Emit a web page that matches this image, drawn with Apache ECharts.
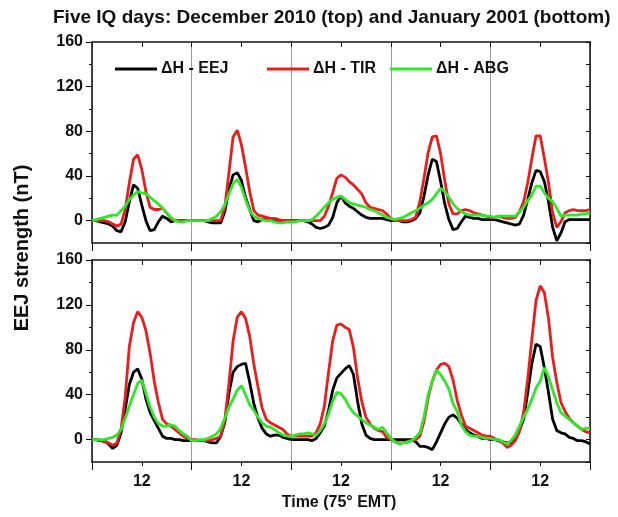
<!DOCTYPE html>
<html>
<head>
<meta charset="utf-8">
<script src="https://cdn.jsdelivr.net/npm/echarts@6/dist/echarts.min.js"></script>
<style>
  html, body { margin: 0; padding: 0; background: #fff; }
  #chart { width: 618px; height: 517px; }
</style>
</head>
<body>
<div id="chart"></div>
<script>
// hours of the five quiet days (75° EMT), one value per hour
const hours = Array.from({ length: 121 }, (_, i) => i)
const dayTicks = [12, 36, 60, 84, 108]

const seriesNames = ['ΔH - EEJ', 'ΔH - TIR', 'ΔH - ABG']
const seriesColors = ['#000000', '#ec1c1c', '#2ee62a']

// December 2010 (top panel), nT
const decEej = [
  0, 0, -1, -2, -3, -5, -9, -10, -1, 17, 32, 29, 14, 0, -9, -8, -1, 4, 2, -1, 0, 0, 0, 0,
  0, 0, 0, 0, -1, -2, -2, -2, 8, 28, 41, 43, 36, 21, 10, 0, -1, 1, 1, 1, 0, 0, 0, 0,
  0, 0, 0, 0, -1, -3, -6, -7, -6, -4, 3, 16, 22, 16, 13, 11, 8, 5, 3, 2, 2, 2, 2, 1,
  0, 0, 0, -1, -1, 0, 2, 7, 22, 41, 55, 53, 35, 15, 1, -8, -7, -1, 4, 3, 2, 2, 1, 1,
  1, 1, 0, -1, -2, -3, -4, -3, 5, 19, 34, 45, 44, 35, 17, -6, -18, -11, -1, 1, 1, 1, 1, 1, 1
]
const decTir = [
  0, 0, 0, 0, -1, -3, -5, -3, 10, 34, 55, 59, 46, 26, 12, 10, 10, 11, 7, 2, 0, 0, 0, 0,
  0, 0, 0, 0, 0, 0, 0, 0, 12, 43, 75, 81, 68, 48, 26, 9, 5, 4, 3, 2, 2, 1, 0, 0,
  0, 0, 0, 0, 0, 0, 0, 0, 4, 13, 25, 38, 41, 39, 35, 32, 28, 24, 16, 12, 11, 10, 9, 6,
  2, 0, 0, 0, 0, 1, 3, 17, 38, 61, 75, 76, 60, 36, 15, 6, 6, 9, 10, 9, 7, 6, 5, 4,
  3, 3, 4, 3, 2, 2, 3, 8, 17, 34, 56, 76, 76, 56, 34, 7, -6, -1, 7, 9, 10, 9, 9, 9, 10
]
const decAbg = [
  0, 1, 2, 3, 4, 5, 5, 9, 13, 19, 23, 26, 25, 24, 21, 18, 15, 11, 7, 3, 0, -1, -1, 0,
  0, 0, 0, 0, 0, 2, 4, 8, 14, 24, 33, 37, 30, 19, 9, 4, 2, 1, 0, 0, -1, -2, -2, -1,
  -1, -1, 0, 0, 0, 1, 4, 8, 12, 16, 19, 21, 22, 19, 16, 15, 14, 13, 12, 10, 9, 7, 5, 3,
  2, 1, 2, 3, 5, 7, 9, 11, 14, 16, 19, 24, 29, 26, 21, 15, 11, 8, 6, 5, 5, 5, 5, 4,
  4, 3, 4, 4, 4, 4, 4, 8, 12, 18, 23, 31, 31, 25, 20, 17, 11, 4, 5, 5, 5, 5, 6, 6, 7
]

// January 2001 (bottom panel), nT
const janEej = [
  0, 0, -1, -1, -4, -8, -5, 6, 27, 49, 60, 63, 54, 36, 24, 17, 10, 3, 1, 1, 0, 0, -1, -1,
  -1, -1, -1, -1, -2, -3, -3, 3, 15, 41, 60, 65, 67, 68, 51, 32, 19, 10, 5, 3, 4, 4, 2, 1,
  0, 0, 0, 0, 0, -1, 1, 6, 12, 26, 44, 55, 59, 63, 66, 58, 34, 14, 4, 1, 0, 0, 0, 0,
  0, 0, 0, 0, 0, 0, -2, -6, -6, -7, -9, -2, 6, 14, 20, 22, 19, 14, 9, 6, 4, 3, 1, 1,
  0, 0, -1, -2, -3, -3, 0, 8, 18, 42, 68, 85, 83, 64, 42, 18, 8, 6, 5, 2, 1, -1, -1, -2, -4
]
const janTir = [
  0, 0, -1, -2, -3, -5, -3, 9, 38, 83, 104, 114, 109, 97, 77, 52, 33, 18, 14, 12, 9, 6, 3, 1,
  0, 0, -1, -1, -1, 0, 1, 3, 17, 50, 88, 109, 114, 108, 92, 67, 47, 28, 18, 15, 13, 11, 9, 5,
  3, 3, 3, 3, 3, 3, 6, 14, 30, 60, 88, 102, 103, 100, 98, 82, 55, 34, 20, 14, 10, 8, 7, 2,
  0, -2, -3, -3, -2, -1, 0, 3, 16, 37, 52, 62, 67, 68, 65, 53, 35, 22, 12, 10, 8, 6, 4, 3,
  3, 1, -1, -3, -7, -5, -1, 7, 24, 54, 90, 124, 137, 131, 108, 73, 51, 33, 25, 19, 15, 12, 9, 7, 6
]
const janAbg = [
  0, 0, 0, 0, 1, 2, 4, 9, 19, 30, 40, 50, 53, 41, 29, 20, 14, 12, 12, 13, 12, 8, 5, 3,
  -1, -1, 0, 0, 1, 3, 5, 10, 19, 29, 36, 44, 48, 40, 31, 26, 20, 15, 12, 11, 9, 6, 4, 3,
  3, 4, 5, 5, 6, 5, 4, 8, 14, 23, 34, 42, 41, 36, 29, 24, 21, 18, 15, 13, 11, 9, 11, 6,
  1, -2, -4, -3, -2, -1, 2, 6, 20, 40, 52, 62, 58, 52, 45, 32, 25, 13, 7, 4, 3, 3, 2, 1,
  1, 0, 0, -2, -4, -1, 4, 12, 20, 27, 36, 46, 52, 64, 56, 44, 33, 24, 21, 18, 15, 12, 9, 10, 10
]

const yMajor = [0, 40, 80, 120, 160]
const yMinor = [20, 60, 100, 140]

const FONT = 'Liberation Sans, Arial, sans-serif'
const frame = { show: true, onZero: false, lineStyle: { color: '#111', width: 1.5 } }
const tickStyle = { color: '#111', width: 1 }

const grids = [
  { left: 92, top: 42, width: 498, height: 201 },
  { left: 92, top: 260, width: 498, height: 202 }
]

const xAxes = []
const yAxes = []
grids.forEach((g, p) => {
  // day boundaries
  xAxes.push({
    gridIndex: p, type: 'value', min: 0, max: 120, interval: 24, position: 'bottom',
    axisLine: frame,
    axisTick: { show: true, length: 8, lineStyle: tickStyle },
    axisLabel: { show: false },
    splitLine: { show: true, lineStyle: { color: '#9c9c9c', width: 1 } }
  })
  // half-day ticks + labels
  xAxes.push({
    gridIndex: p, type: 'value', min: 0, max: 120, interval: 12, position: 'bottom',
    axisLine: { show: false, onZero: false },
    axisTick: { show: true, length: 4, lineStyle: tickStyle },
    axisLabel: {
      show: p === 1, margin: 12, color: '#111', fontFamily: FONT, fontWeight: 'bold', fontSize: 16,
      formatter: v => (dayTicks.includes(v) ? '12' : '')
    },
    splitLine: { show: false }
  })
  xAxes.push({
    gridIndex: p, type: 'value', min: 0, max: 120, interval: 12, position: 'top',
    axisLine: frame,
    axisTick: { show: true, inside: true, length: 5, lineStyle: tickStyle },
    axisLabel: { show: false },
    splitLine: { show: false }
  })

  yAxes.push({
    gridIndex: p, type: 'value', min: -20, max: 160, position: 'left',
    axisLine: frame,
    axisTick: { show: true, length: 6, customValues: yMajor, lineStyle: tickStyle },
    axisLabel: {
      margin: 9, color: '#111', fontFamily: FONT, fontWeight: 'bold', fontSize: 16, customValues: yMajor
    },
    splitLine: { show: false }
  })
  yAxes.push({
    gridIndex: p, type: 'value', min: -20, max: 160, position: 'left',
    axisLine: { show: false, onZero: false },
    axisTick: { show: true, length: 3, customValues: yMinor, lineStyle: tickStyle },
    axisLabel: { show: false },
    splitLine: { show: false }
  })
  yAxes.push({
    gridIndex: p, type: 'value', min: -20, max: 160, interval: 20, position: 'right',
    axisLine: frame,
    axisTick: { show: true, inside: true, length: 4, lineStyle: tickStyle },
    axisLabel: { show: false },
    splitLine: { show: false }
  })
})

function line(name, values, p, color) {
  return {
    name: name,
    type: 'line',
    xAxisIndex: p * 3,
    yAxisIndex: p * 3,
    data: values.map((v, i) => [hours[i], v]),
    symbol: 'none',
    lineStyle: { color: color, width: 2.8 },
    itemStyle: { color: color }
  }
}

const panels = [[decEej, decTir, decAbg], [janEej, janTir, janAbg]]
const series = []
panels.forEach((vals, p) => {
  vals.forEach((v, k) => series.push(line(seriesNames[k], v, p, seriesColors[k])))
})

// one legend block per entry so each sits where it does in the figure
const legendLeft = [110, 262, 385]
const legends = seriesNames.map((n, k) => ({
  data: [n],
  left: legendLeft[k], top: 56,
  icon: 'rect', itemWidth: 42, itemHeight: 3, itemGap: 0,
  textStyle: { fontFamily: FONT, fontWeight: 'bold', fontSize: 16, color: '#111', padding: [0, 0, 0, -1] }
}))

const chart = echarts.init(document.getElementById('chart'))
chart.setOption({
  backgroundColor: '#fff',
  animation: false,
  title: {
    text: 'Five IQ days: December 2010 (top) and January 2001 (bottom)',
    left: 48, top: 3,
    textStyle: { fontFamily: FONT, fontWeight: 'bold', fontSize: 19, color: '#111' }
  },
  legend: legends,
  grid: grids,
  xAxis: xAxes,
  yAxis: yAxes,
  series: series,
  graphic: [
    {
      type: 'text', x: 22, y: 248, rotation: Math.PI / 2,
      style: { text: 'EEJ strength (nT)', font: 'bold 20px ' + FONT, fill: '#111', align: 'center', verticalAlign: 'middle' }
    },
    {
      type: 'text', x: 339, y: 503,
      style: { text: 'Time (75° EMT)', font: 'bold 16px ' + FONT, fill: '#111', align: 'center', verticalAlign: 'middle' }
    }
  ]
})
</script>
</body>
</html>
